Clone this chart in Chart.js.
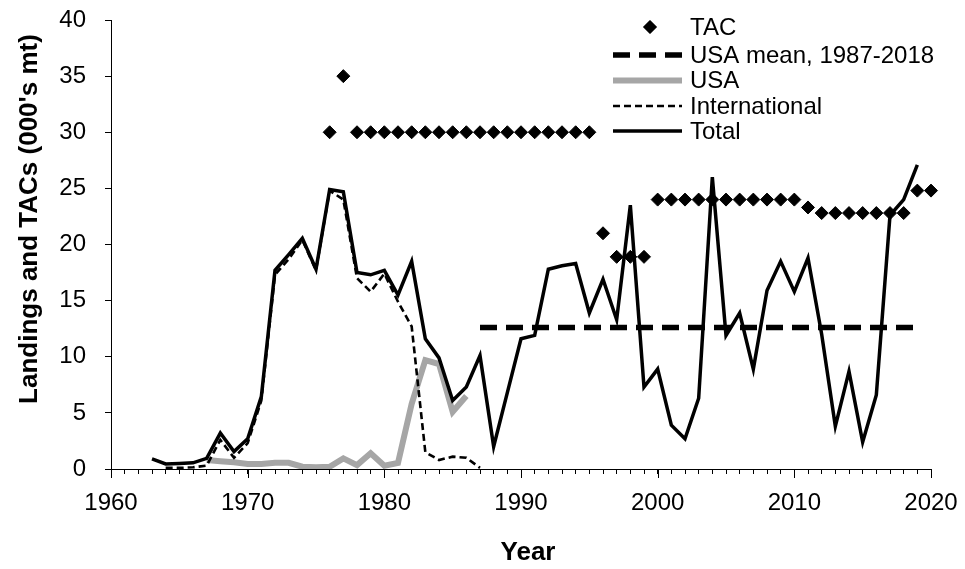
<!DOCTYPE html>
<html lang="en">
<head>
  <meta charset="UTF-8" />
  <title>Landings and TACs</title>
  <script src="https://cdn.jsdelivr.net/npm/chart.js"></script>
  <style>
    body { margin: 0; background: #fff; }
    .wrap { width: 965px; height: 569px; }
  </style>
</head>
<body>
  <div class="wrap"><canvas id="landingsChart" width="965" height="569"></canvas></div>

  <script>
    const years = [
      1963, 1964, 1965, 1966, 1967, 1968, 1969, 1970, 1971, 1972,
      1973, 1974, 1975, 1976, 1977, 1978, 1979, 1980, 1981, 1982,
      1983, 1984, 1985, 1986, 1987, 1988, 1989, 1990, 1991, 1992,
      1993, 1994, 1995, 1996, 1997, 1998, 1999, 2000, 2001, 2002,
      2003, 2004, 2005, 2006, 2007, 2008, 2009, 2010, 2011, 2012,
      2013, 2014, 2015, 2016, 2017, 2018, 2019, 2020
    ];
    const total = [
      0.9, 0.45, 0.5, 0.55, 0.95, 3.2, 1.55, 2.7, 6.45, 17.7,
      19.1, 20.55, 17.8, 24.9, 24.7, 17.5, 17.3, 17.7, 15.5, 18.5,
      11.6, 9.9, 6.1, 7.3, 10.1, 2.0, 6.8, 11.6, 11.9, 17.8,
      18.1, 18.3, 13.9, 16.9, 13.3, 23.5, 7.3, 8.9, 3.9, 2.7,
      6.3, 26.0, 11.9, 13.9, 8.9, 15.9, 18.5, 15.8, 18.8, 12.0,
      3.8, 8.7, 2.4, 6.6, 22.6, 24.0, 27.1, null
    ];
    const international = [
      null, 0.1, 0.1, 0.15, 0.3, 2.6, 1.0, 2.3, 6.1, 17.3,
      18.7, 20.4, 17.7, 24.8, 24.0, 17.0, 15.8, 17.4, 14.9, 12.7,
      1.5, 0.8, 1.1, 1.0, 0.1, null, null, null, null, null,
      null, null, null, null, null, null, null, null, null, null,
      null, null, null, null, null, null, null, null, null, null,
      null, null, null, null, null, null, null, null
    ];
    const usa = [
      null, null, null, null, 0.8, 0.7, 0.6, 0.45, 0.45, 0.55,
      0.55, 0.2, 0.15, 0.2, 0.95, 0.35, 1.4, 0.3, 0.55, 5.8,
      9.7, 9.35, 5.1, 6.5, null, null, null, null, null, null,
      null, null, null, null, null, null, null, null, null, null,
      null, null, null, null, null, null, null, null, null, null,
      null, null, null, null, null, null, null, null
    ];
    const tac = [
      null, null, null, null, null, null, null, null, null, null,
      null, null, null, 30, 35, 30, 30, 30, 30, 30,
      30, 30, 30, 30, 30, 30, 30, 30, 30, 30,
      30, 30, 30, 21, 18.9, 18.9, 18.9, 24, 24, 24,
      24, 24, 24, 24, 24, 24, 24, 24, 23.3, 22.8,
      22.8, 22.8, 22.8, 22.8, 22.8, 22.8, 24.8, 24.8
    ];
    // USA mean 1987-2018, drawn as a flat segment
    const meanYears = [1987, 2019];
    const meanValues = [12.6, 12.6];

    const xTicks = [1960, 1970, 1980, 1990, 2000, 2010, 2020];
    const yTicks = [0, 5, 10, 15, 20, 25, 30, 35, 40];

    const FONT = "'Liberation Sans', Arial, sans-serif";

    function toPoints(xs, vals) {
      return xs.map((x, i) => ({ x: x, y: vals[i] })).filter(p => p.y !== null);
    }

    // legend drawn inside the plot, top right
    const insideLegend = {
      id: 'insideLegend',
      afterDraw(chart) {
        const ctx = chart.ctx;
        const ds = chart.data.datasets;
        const rows = [
          { i: 0, y: 27 },
          { i: 1, y: 55 },
          { i: 2, y: 80.5 },
          { i: 3, y: 106 },
          { i: 4, y: 131 }
        ];
        const x0 = 613, x1 = 682, tx = 690;
        ctx.save();
        rows.forEach(r => {
          const d = ds[r.i];
          if (d.showLine === false) {
            Chart.helpers.drawPoint(ctx, {
              pointStyle: d.pointStyle, radius: d.pointRadius, borderWidth: 1
            }, 650, r.y);
            ctx.fillStyle = '#000';
            ctx.fill();
          } else {
            ctx.beginPath();
            ctx.strokeStyle = d.borderColor;
            ctx.lineWidth = d.borderWidth;
            ctx.setLineDash(d.borderDash || []);
            ctx.moveTo(x0, r.y);
            ctx.lineTo(x1, r.y);
            ctx.stroke();
            ctx.setLineDash([]);
          }
          ctx.fillStyle = '#000';
          ctx.font = '24px ' + FONT;
          ctx.textAlign = 'left';
          ctx.textBaseline = 'middle';
          ctx.fillText(d.label, tx, r.y + 1);
        });
        ctx.restore();
      }
    };

    // axis titles and the longer decade ticks
    const axisExtras = {
      id: 'axisExtras',
      afterDraw(chart) {
        const ctx = chart.ctx;
        const xs = chart.scales.x;
        const area = chart.chartArea;
        ctx.save();
        ctx.strokeStyle = '#000';
        ctx.lineWidth = 1;
        xTicks.forEach(v => {
          const px = Math.round(xs.getPixelForValue(v)) + 0.5;
          ctx.beginPath();
          ctx.moveTo(px, area.bottom);
          ctx.lineTo(px, area.bottom + 9);
          ctx.stroke();
        });
        ctx.fillStyle = '#000';
        ctx.font = 'bold 26px ' + FONT;
        ctx.textAlign = 'center';
        ctx.textBaseline = 'middle';
        ctx.fillText('Year', 528, 553);
        ctx.translate(30, 219);
        ctx.rotate(-Math.PI / 2);
        ctx.fillText("Landings and TACs (000's mt)", 0, 0);
        ctx.restore();
      }
    };

    const ctx = document.getElementById('landingsChart').getContext('2d');
    new Chart(ctx, {
      type: 'line',
      data: {
        datasets: [
          {
            label: 'TAC',
            data: toPoints(years, tac),
            showLine: false,
            pointStyle: 'rectRot',
            pointRadius: 6.5,
            borderWidth: 1,
            borderColor: '#000',
            backgroundColor: '#000',
            clip: false,
            order: 1
          },
          {
            label: 'USA mean, 1987-2018',
            data: toPoints(meanYears, meanValues),
            borderColor: '#000',
            borderWidth: 5.5,
            borderDash: [17, 9],
            pointRadius: 0,
            order: 4
          },
          {
            label: 'USA',
            data: toPoints(years, usa),
            borderColor: '#a6a6a6',
            borderWidth: 6,
            pointRadius: 0,
            order: 5
          },
          {
            label: 'International',
            data: toPoints(years, international),
            borderColor: '#000',
            borderWidth: 2.6,
            borderDash: [7, 4],
            pointRadius: 0,
            order: 3
          },
          {
            label: 'Total',
            data: toPoints(years, total),
            borderColor: '#000',
            borderWidth: 3.5,
            pointRadius: 0,
            order: 2
          }
        ]
      },
      options: {
        responsive: false,
        animation: false,
        layout: { padding: { top: 20, right: 34, left: 0, bottom: 0 } },
        plugins: {
          legend: { display: false },
          tooltip: { enabled: false }
        },
        scales: {
          x: {
            type: 'linear',
            min: 1960,
            max: 2020,
            afterFit: s => {
              s.height = 100;
              s.paddingLeft = 0;
              s.paddingRight = 0;
            },
            ticks: {
              stepSize: 1,
              autoSkip: false,
              maxRotation: 0,
              color: '#000',
              padding: 15,
              font: { family: FONT, size: 24 },
              callback: v => xTicks.includes(v) ? String(v) : ''
            },
            grid: { drawOnChartArea: false, tickLength: 5, color: '#000' },
            border: { color: '#000', width: 1 }
          },
          y: {
            min: 0,
            max: 40,
            afterFit: s => {
              s.width = 111;
              s.paddingTop = 0;
              s.paddingBottom = 0;
            },
            afterBuildTicks: s => { s.ticks = yTicks.map(v => ({ value: v })); },
            ticks: {
              color: '#000',
              padding: 19,
              font: { family: FONT, size: 24 }
            },
            grid: { drawOnChartArea: false, tickLength: 6, color: '#000' },
            border: { color: '#000', width: 1 }
          }
        }
      },
      plugins: [insideLegend, axisExtras]
    });
  </script>
</body>
</html>
